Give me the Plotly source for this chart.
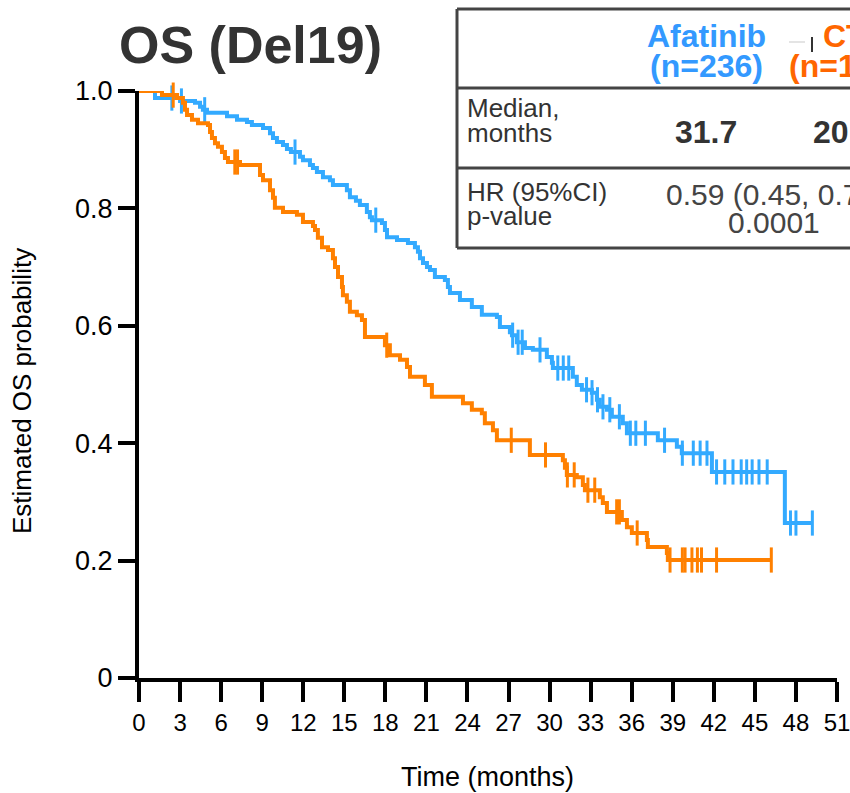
import numpy as np
import plotly.graph_objects as go

# ---------------- data ----------------
afatinib_t = [0, 1.17, 3.0, 4.09, 4.46, 4.67, 4.97, 6.43, 7.16, 7.89, 8.25, 9.06, 9.57, 9.79, 10.08,
              10.52, 10.81, 11.10, 11.76, 11.98, 12.49, 12.71, 13.0, 13.44, 13.95, 14.17, 15.19,
              15.41, 15.85, 16.14, 16.65, 16.87, 17.02, 17.75, 17.97, 18.12, 18.85, 19.65, 20.16,
              20.38, 20.53, 20.75, 21.04, 21.26, 21.62, 22.35, 22.57, 22.72, 23.45, 24.32, 25.05,
              26.15, 26.37, 27.1, 27.25, 27.61, 28.2, 28.78, 29.8, 30.17, 30.24, 31.7, 31.99,
              32.36, 33.09, 33.46, 33.67, 34.19, 34.55, 35.35, 35.65, 37.91, 39.3, 39.66, 41.86,
              47.19]
afatinib_s = [1.0, 0.988, 0.983, 0.980, 0.973, 0.968, 0.963, 0.957, 0.951, 0.947, 0.942, 0.937,
              0.928, 0.920, 0.913, 0.908, 0.901, 0.896, 0.888, 0.882, 0.874, 0.869, 0.862, 0.853,
              0.848, 0.840, 0.831, 0.819, 0.813, 0.806, 0.794, 0.785, 0.780, 0.775, 0.763, 0.751,
              0.746, 0.741, 0.734, 0.726, 0.715, 0.707, 0.700, 0.695, 0.683, 0.678, 0.666, 0.656,
              0.644, 0.632, 0.619, 0.615, 0.598, 0.589, 0.584, 0.572, 0.562, 0.559, 0.547, 0.537,
              0.528, 0.513, 0.499, 0.491, 0.486, 0.474, 0.462, 0.457, 0.445, 0.434, 0.417, 0.405,
              0.394, 0.383, 0.351, 0.264]
afatinib_end = 49.2
afatinib_censor = [2.4, 3.1, 4.8, 11.4, 17.3, 27.3, 27.7, 28.0, 29.3, 30.6, 31.0, 31.4, 32.7, 33.1,
                   33.5, 33.9, 34.4, 35.1, 35.9, 36.3, 37.0, 38.4, 39.7, 40.5, 41.0, 41.5, 42.2,
                   42.8, 43.4, 44.0, 44.4, 44.8, 45.3, 45.9, 47.6, 48.0, 49.2]

ct_t = [0, 1.68, 2.78, 3.21, 3.36, 3.51, 3.87, 4.31, 5.04, 5.19, 5.33, 5.55, 5.77, 6.06, 6.28, 6.5,
        7.38, 8.84, 9.06, 9.57, 9.79, 9.93, 10.52, 11.54, 11.98, 12.71, 12.86, 13.07, 13.37, 13.81,
        14.17, 14.32, 14.54, 14.83, 14.9, 15.19, 15.41, 15.92, 16.29, 16.51, 17.97, 18.33, 19.07,
        19.58, 19.8, 20.89, 21.4, 23.67, 24.32, 25.05, 25.27, 25.86, 26.15, 28.56, 30.97, 31.12,
        31.26, 31.99, 32.43, 32.58, 33.67, 33.89, 34.19, 35.28, 35.65, 36.01, 37.11, 37.18, 38.57,
        38.64]
ct_s = [1.0, 0.993, 0.988, 0.980, 0.968, 0.959, 0.951, 0.945, 0.942, 0.930, 0.920, 0.911, 0.905,
        0.896, 0.886, 0.879, 0.874, 0.857, 0.848, 0.831, 0.818, 0.801, 0.794, 0.789, 0.777, 0.770,
        0.763, 0.750, 0.734, 0.729, 0.715, 0.700, 0.683, 0.666, 0.652, 0.641, 0.624, 0.618, 0.610,
        0.581, 0.567, 0.550, 0.542, 0.530, 0.513, 0.499, 0.479, 0.468, 0.457, 0.451, 0.434, 0.422,
        0.405, 0.380, 0.371, 0.358, 0.346, 0.342, 0.329, 0.320, 0.308, 0.298, 0.283, 0.269, 0.257,
        0.247, 0.235, 0.223, 0.213, 0.201]
ct_end = 46.24
ct_censor = [2.5, 7.0, 7.2, 18.1, 27.2, 29.7, 31.3, 31.8, 32.8, 33.3, 34.9, 35.1, 36.4, 38.8, 39.7,
             39.9, 40.4, 40.8, 41.1, 42.2, 46.2]

x_ticks = list(range(0, 52, 3))
y_ticks = [0, 0.2, 0.4, 0.6, 0.8, 1.0]
y_ticktext = ["0", "0.2", "0.4", "0.6", "0.8", "1.0"]

arm_labels = ["Afatinib", "CT"]
arm_n = ["(n=236)", "(n=119)"]
medians = ["31.7", "20.7"]
hr_text = "0.59 (0.45, 0.77)"
p_text = "0.0001"

BLUE = "#33AAFF"
ORANGE = "#FF8000"
BLUE_TXT = "#3399FF"
ORANGE_TXT = "#FF6600"

W, H = 850, 793
L, R, T, B = 139, 13, 91, 115
PW, PH = W - L - R, H - T - B


def px(x):
    return (x - L) / PW


def py(y):
    return (H - B - y) / PH


def step_at(times, surv, q):
    idx = np.searchsorted(np.array(times), np.array(q), side="right") - 1
    return np.array(surv)[idx]


fig = go.Figure()
for t, s, end, cens, col in [(afatinib_t, afatinib_s, afatinib_end, afatinib_censor, BLUE),
                             (ct_t, ct_s, ct_end, ct_censor, ORANGE)]:
    xs = list(t) + [end]
    ys = list(s) + [s[-1]]
    fig.add_trace(go.Scatter(x=xs, y=ys, mode="lines", line=dict(color=col, width=4, shape="hv"),
                             cliponaxis=False, showlegend=False, hoverinfo="skip"))
    fig.add_trace(go.Scatter(x=cens, y=step_at(t, s, cens), mode="markers",
                             marker=dict(symbol="line-ns", size=18, line=dict(color=col, width=3)),
                             cliponaxis=False, showlegend=False, hoverinfo="skip"))

FONT = "Liberation Sans, Arial, sans-serif"

fig.update_layout(
    width=W, height=H, margin=dict(l=L, r=R, t=T, b=B, autoexpand=False),
    paper_bgcolor="white", plot_bgcolor="white",
    font=dict(family=FONT, color="#000"),
    xaxis=dict(range=[0, 51], tickvals=x_ticks, showgrid=False, zeroline=False,
               showline=True, linewidth=4, linecolor="black", ticks="outside", ticklen=20,
               tickwidth=4, tickcolor="black", tickfont=dict(size=24, family=FONT), fixedrange=True,
               automargin=False, ticklabeloverflow="allow"),
    yaxis=dict(range=[0, 1], tickvals=y_ticks, ticktext=y_ticktext, showgrid=False, zeroline=False,
               showline=True, linewidth=4, linecolor="black", ticks="outside", ticklen=17,
               tickwidth=4, tickcolor="black", tickfont=dict(size=27, family=FONT), fixedrange=True,
               automargin=False, ticklabeloverflow="allow"),
)

ann = []
ann.append(dict(text="<b>OS (Del19)</b>", x=px(250), y=py(45), font=dict(size=52, color="#333")))
ann.append(dict(text="Estimated OS probability", x=px(22), y=py(391), textangle=-90,
                font=dict(size=26, color="#000")))
ann.append(dict(text="Time (months)", x=px(487), y=py(777), font=dict(size=27, color="#000")))

# table
col_x = [706, 844]
cols = [BLUE_TXT, ORANGE_TXT]
for cx, lab, n, med, c in zip(col_x, arm_labels, arm_n, medians, cols):
    ann.append(dict(text=f"<b>{lab}</b>", x=px(cx), y=py(36), font=dict(size=32, color=c)))
    ann.append(dict(text=f"<b>{n}</b>", x=px(cx), y=py(66), font=dict(size=32, color=c)))
    ann.append(dict(text=f"<b>{med}</b>", x=px(cx), y=py(132), font=dict(size=32, color="#333")))
for txt, yy in [("Median,", 108), ("months", 133), ("HR (95%CI)", 192), ("p-value", 216)]:
    ann.append(dict(text=txt, x=px(465), y=py(yy), xanchor="left", font=dict(size=26, color="#333")))
ann.append(dict(text=hr_text, x=px(776), y=py(194), font=dict(size=30, color="#444")))
ann.append(dict(text=p_text, x=px(774), y=py(223), font=dict(size=30, color="#444")))

for a in ann:
    a.setdefault("xanchor", "center")
    a.update(xref="paper", yref="paper", yanchor="middle", showarrow=False)
fig.update_layout(annotations=ann)

shapes = []
tbl_l, tbl_r = 457, 900
for y0 in [9, 88, 168, 248]:
    shapes.append(dict(type="line", x0=px(tbl_l), x1=px(tbl_r), y0=py(y0), y1=py(y0),
                       line=dict(color="#444", width=3)))
shapes.append(dict(type="line", x0=px(tbl_l), x1=px(tbl_l), y0=py(9), y1=py(248),
                   line=dict(color="#444", width=3)))
shapes.append(dict(type="line", x0=px(812), x1=px(812), y0=py(37), y1=py(52),
                   line=dict(color="#333", width=2)))
shapes.append(dict(type="line", x0=px(789), x1=px(805), y0=py(42), y1=py(42),
                   line=dict(color="#e4e4e4", width=2)))
for s in shapes:
    s.update(xref="paper", yref="paper")
fig.update_layout(shapes=shapes)

fig.write_html("out.html")
